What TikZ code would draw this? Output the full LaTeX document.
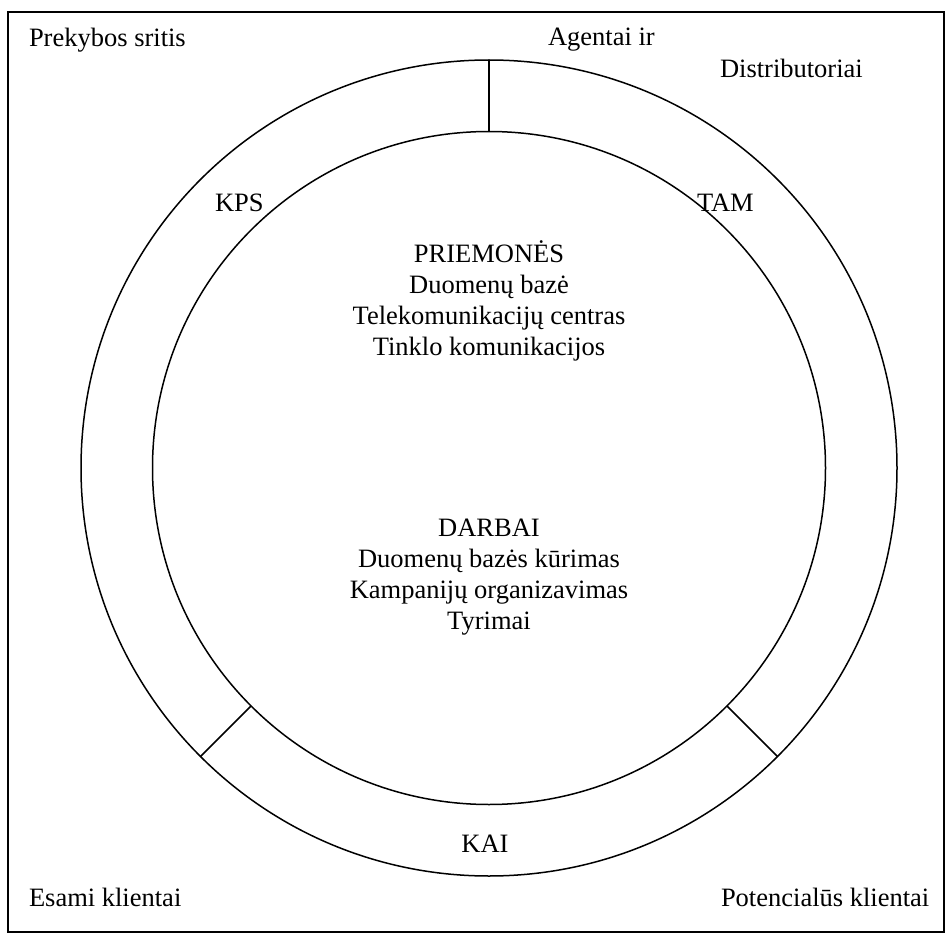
\documentclass[tikz,border=0pt]{standalone}
\usepackage{fontspec}
\setmainfont{Liberation Serif}
\begin{document}
\begin{tikzpicture}[x=1pt,y=-1pt,
  txt/.style={inner sep=0pt,outer sep=0pt,font=\fontsize{26.5}{31}\selectfont},
  lft/.style={txt,anchor=base west},
  mid/.style={txt,anchor=base},
  ring/.style={line width=1.5pt},
  divider/.style={line width=1.5pt}]
\useasboundingbox (0,0) rectangle (948,936);
\draw[line width=1.4pt] (8,12) rectangle (944,932);
\coordinate (c) at (489,468);
\draw[ring] (c) circle[radius=408pt];
\draw[ring] (c) circle[radius=336.5pt];
% divider end points
\coordinate (ti) at (489,131.5);
\coordinate (to) at (489,60);
\coordinate (li) at (251,706);
\coordinate (lo) at (200.5,756.5);
\coordinate (ri) at (727,706);
\coordinate (ro) at (777.5,756.5);
\draw[divider] (ti) -- (to);
\draw[divider] (li) -- (lo);
\draw[divider] (ri) -- (ro);
% corner labels
\node[lft] (prek) at (29,47) {Prekybos sritis};
\node[lft] (agent) at (548,46) {Agentai ir};
\node[lft] (dist) at (720,78) {Distributoriai};
\node[lft] (esami) at (29,906) {Esami klientai};
\node[lft] (potenc) at (721,906) {Potencialūs klientai};
% ring labels
\node[lft] (kps) at (215,212) {KPS};
\node[lft] (tam) at (697,212) {TAM};
\node[mid] (kai) at (485,852) {KAI};
% inner texts
\node[mid] (prie) at (489,262) {PRIEMONĖS};
\node[mid] (p1) at (489,293) {Duomenų bazė};
\node[mid] (p2) at (489,324) {Telekomunikacijų centras};
\node[mid] (p3) at (489,355) {Tinklo komunikacijos};
\node[mid] (darb) at (489,536) {DARBAI};
\node[mid] (d1) at (489,567) {Duomenų bazės kūrimas};
\node[mid] (d2) at (489,598) {Kampanijų organizavimas};
\node[mid] (d3) at (489,629) {Tyrimai};
\end{tikzpicture}
\end{document}
